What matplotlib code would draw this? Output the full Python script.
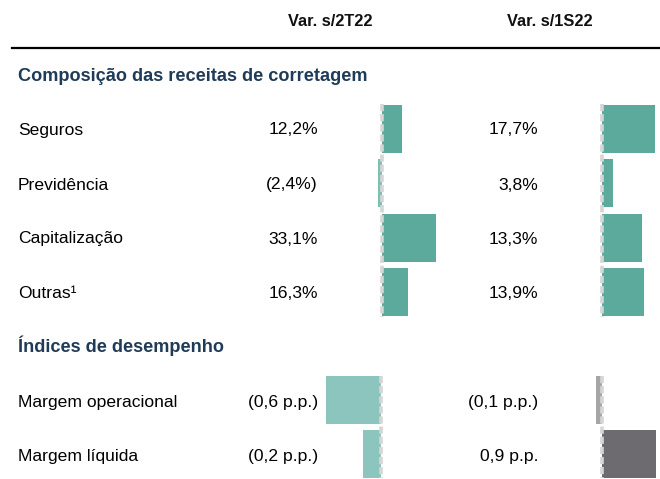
import matplotlib
matplotlib.use("Agg")
import matplotlib.pyplot as plt

# dados
receitas = ["Seguros", "Previdência", "Capitalização", "Outras¹"]
var_2t22 = [12.2, -2.4, 33.1, 16.3]
var_1s22 = [17.7, 3.8, 13.3, 13.9]
lbl_2t22 = ["12,2%", "(2,4%)", "33,1%", "16,3%"]
lbl_1s22 = ["17,7%", "3,8%", "13,3%", "13,9%"]

indices = ["Margem operacional", "Margem líquida"]
idx_2t22 = [-0.6, -0.2]
idx_1s22 = [-0.1, 0.9]
lbl_idx_2t22 = ["(0,6 p.p.)", "(0,2 p.p.)"]
lbl_idx_1s22 = ["(0,1 p.p.)", "0,9 p.p."]

W, H = 660, 479
plt.rcParams["font.family"] = ["Liberation Sans", "DejaVu Sans"]
fig = plt.figure(figsize=(W / 100, H / 100), dpi=100)

TEAL = "#5BAA9B"
TEAL_L = "#8CC5BD"
NAVY = "#1F3B57"
FS = 12.6


def fx(px):
    return px / W


def fy(py):
    return 1 - py / H


def bar_panel(x0, x1, base, scale, rows_c, vals, colors):
    # eixo posicionado em pixels, centros das linhas em px
    spacing = rows_c[1] - rows_c[0]
    y_top = rows_c[0] - spacing / 2
    y_bot = rows_c[-1] + spacing / 2
    ax = fig.add_axes([fx(x0), fy(y_bot), fx(x1 - x0), (y_bot - y_top) / H])
    ax.set_xlim((x0 - base) / scale, (x1 - base) / scale)
    n = len(vals)
    ax.set_ylim(n - 0.5, -0.5)
    ax.barh(range(n), vals, height=0.88, color=colors, edgecolor="none")
    ax.plot([0, 0], [-0.45, n - 0.55], color="#D6D6D6", lw=2.6,
            ls=(0, (2, 0.8)), solid_capstyle="butt")
    ax.axis("off")
    return ax


rows_top = [129, 184, 238, 292]
rows_idx = [400, 454]

bar_panel(360, 450, 382, 1.62, rows_top, var_2t22,
          [TEAL, "#7DBFB3", TEAL, TEAL])
bar_panel(580, 660, 602, 3.0, rows_top, var_1s22, [TEAL] * 4)
bar_panel(300, 400, 381, 92, rows_idx, idx_2t22, [TEAL_L, TEAL_L])
bar_panel(580, 660, 602, 60, rows_idx, idx_1s22, ["#A6A6A6", "#6D6B70"])

# cabeçalho
fig.text(fx(330), fy(22), "Var. s/2T22", ha="center", va="center",
         fontsize=11.8, fontweight="bold", color="#111111")
fig.text(fx(550), fy(22), "Var. s/1S22", ha="center", va="center",
         fontsize=11.8, fontweight="bold", color="#111111")
fig.add_artist(plt.Line2D([fx(12), 1], [fy(48), fy(48)], color="black", lw=1.6))

fig.text(fx(18), fy(76), "Composição das receitas de corretagem", ha="left",
         va="center", fontsize=13.1, fontweight="bold", color=NAVY)
fig.text(fx(18), fy(346), "Índices de desempenho", ha="left",
         va="center", fontsize=13.1, fontweight="bold", color=NAVY)

for name, yc, a, b in zip(receitas, rows_top, lbl_2t22, lbl_1s22):
    fig.text(fx(18), fy(yc + 1), name, ha="left", va="center", fontsize=FS)
    fig.text(fx(318), fy(yc + 1), a, ha="right", va="center", fontsize=FS)
    fig.text(fx(538), fy(yc + 1), b, ha="right", va="center", fontsize=FS)

for name, yc, a, b in zip(indices, rows_idx, lbl_idx_2t22, lbl_idx_1s22):
    fig.text(fx(18), fy(yc + 2), name, ha="left", va="center", fontsize=FS)
    fig.text(fx(318), fy(yc + 2), a, ha="right", va="center", fontsize=FS)
    fig.text(fx(538), fy(yc + 2), b, ha="right", va="center", fontsize=FS)

fig.savefig("out.png", dpi=100, facecolor="white")
